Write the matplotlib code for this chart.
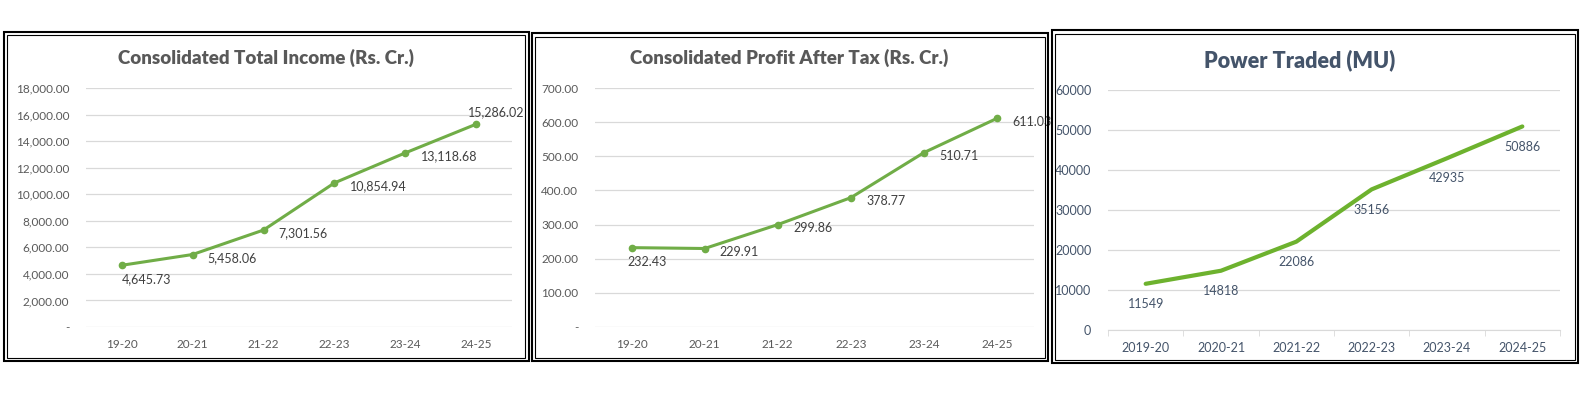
import matplotlib.pyplot as plt
from matplotlib.patches import Rectangle
from matplotlib.ticker import FuncFormatter, FixedLocator

# DATA
years_short = ['19-20', '20-21', '21-22', '22-23', '23-24', '24-25']
years_long = ['2019-20', '2020-21', '2021-22', '2022-23', '2023-24', '2024-25']
total_income = [4645.73, 5458.06, 7301.56, 10854.94, 13118.68, 15286.02]
profit_after_tax = [232.43, 229.91, 299.86, 378.77, 510.71, 611.03]
power_traded = [11549, 14818, 22086, 35156, 42935, 50886]

W, H = 1584, 396
GREEN = '#70AD47'
GREEN3 = '#6DB22E'
TXT = '#595959'
GRID = '#D9D9D9'
BLUEGRAY = '#44546A'

plt.rcParams['font.family'] = ['Lato', 'DejaVu Sans']

fig = plt.figure(figsize=(W / 100, H / 100), dpi=100)


def px_axes(x0, x1, ytop, ybot):
    return fig.add_axes([x0 / W, 1 - ybot / H, (x1 - x0) / W, (ybot - ytop) / H])


def acct(v, pos=None):
    # excel accounting style, zero shown as a dash
    if v == 0:
        return '-'
    return '{:,.2f}'.format(v)


def box(x0, x1, ytop, ybot):
    # double line border round each chart
    fig.add_artist(Rectangle((x0 / W, 1 - ybot / H), (x1 - x0) / W, (ybot - ytop) / H,
                             transform=fig.transFigure, fill=False, ec='black', lw=1.5))
    d = 3.5
    fig.add_artist(Rectangle(((x0 + d) / W, 1 - (ybot - d) / H), (x1 - x0 - 2 * d) / W,
                             (ybot - ytop - 2 * d) / H,
                             transform=fig.transFigure, fill=False, ec='black', lw=0.8))


def style(ax, ymax, step, fmt, cats):
    ax.set_xlim(-0.5, 5.5)
    ax.set_ylim(0, ymax)
    ax.yaxis.set_major_locator(FixedLocator(list(range(0, ymax + 1, step))))
    ax.yaxis.set_major_formatter(FuncFormatter(fmt))
    ax.grid(axis='y', color=GRID, lw=0.9)
    ax.set_axisbelow(True)
    for s in ax.spines.values():
        s.set_visible(False)
    ax.set_xticks(range(len(cats)))
    ax.set_xticklabels(cats)
    ax.tick_params(axis='both', length=0, colors=TXT, labelsize=8.5)
    ax.tick_params(axis='x', pad=9)
    ax.tick_params(axis='y', pad=12)


x = range(len(years_short))

# panel 1 - total income
box(3.5, 528.5, 31.7, 361)
ax1 = px_axes(86, 512, 88, 327)
style(ax1, 18000, 2000, acct, years_short)
ax1.plot(x, total_income, color=GREEN, lw=2.2, marker='o', ms=4.5)
for i, v in enumerate(total_income):
    if i == 0:
        ax1.annotate(acct(v), (i, v), xytext=(0, -10), textcoords='offset points',
                     ha='left', va='center', fontsize=9, color='#404040')
    elif i == len(total_income) - 1:
        ax1.annotate(acct(v), (i, v), xytext=(-6, 8.5), textcoords='offset points',
                     ha='left', va='center', fontsize=9, color='#404040', annotation_clip=False)
    else:
        ax1.annotate(acct(v), (i, v), xytext=(11, -2.5), textcoords='offset points',
                     ha='left', va='center', fontsize=9, color='#404040')
fig.text(266 / W, 1 - 58 / H, 'Consolidated Total Income (Rs. Cr.)', ha='center', va='center',
         fontsize=13.5, fontweight='heavy', color=TXT)

# panel 2 - profit after tax
box(531.6, 1048, 33.3, 361)
ax2 = px_axes(595, 1033.5, 88, 327)
style(ax2, 700, 100, acct, years_short)
ax2.plot(x, profit_after_tax, color=GREEN, lw=2.2, marker='o', ms=4.5)
for i, v in enumerate(profit_after_tax):
    if i == 0:
        ax2.annotate(acct(v), (i, v), xytext=(-3, -10), textcoords='offset points',
                     ha='left', va='center', fontsize=9, color='#404040')
    else:
        ax2.annotate(acct(v), (i, v), xytext=(11, -2.5), textcoords='offset points',
                     ha='left', va='center', fontsize=9, color='#404040')
fig.text(789 / W, 1 - 58 / H, 'Consolidated Profit After Tax (Rs. Cr.)', ha='center', va='center',
         fontsize=13.5, fontweight='heavy', color=TXT)

# panel 3 - power traded
box(1051.7, 1578, 30, 363)
ax3 = px_axes(1108, 1560, 90, 330)
style(ax3, 60000, 10000, lambda v, p: '{:d}'.format(int(v)), years_long)
ax3.spines['bottom'].set_visible(True)
ax3.spines['bottom'].set_color(GRID)
ax3.xaxis.set_minor_locator(FixedLocator([-0.5 + k for k in range(7)]))
ax3.tick_params(axis='x', which='minor', length=4, color=GRID)
ax3.tick_params(axis='x', which='major', pad=9)
ax3.tick_params(axis='both', labelsize=9)
ax3.plot(x, power_traded, color=GREEN3, lw=3.0, solid_capstyle='round')
for i, v in enumerate(power_traded):
    ax3.annotate(str(v), (i, v), xytext=(0, -14.5), textcoords='offset points',
                 ha='center', va='center', fontsize=9, color=BLUEGRAY)
fig.text(1300 / W, 1 - 60 / H, 'Power Traded (MU)', ha='center', va='center',
         fontsize=15.5, fontweight='heavy', color=BLUEGRAY)
for lab in ax3.get_xticklabels() + ax3.get_yticklabels():
    lab.set_color(BLUEGRAY)

fig.savefig('out.png', dpi=100)
